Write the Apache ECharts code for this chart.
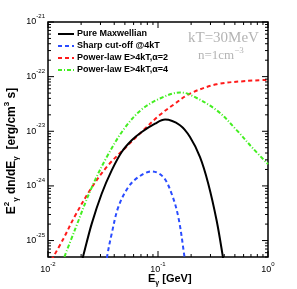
<!DOCTYPE html>
<html><head><meta charset="utf-8">
<script src="https://cdn.jsdelivr.net/npm/echarts@6/dist/echarts.min.js"></script>
<style>html,body{margin:0;padding:0;background:#fff}#c{width:297px;height:289px}</style>
</head><body><div id="c"></div>
<script>
// ---- data (E in GeV, E^2 dn/dE in erg/cm^3 s) ----
const seriesNames = ['Pure Maxwellian', 'Sharp cut-off @4kT', 'Power-law E>4kT,\u03b1=2', 'Power-law E>4kT,\u03b1=4'];

const maxwE = [0.01995, 0.02094, 0.02495, 0.03076, 0.03793, 0.04677, 0.05768, 0.07112, 0.09397, 0.1159, 0.1585, 0.1954, 0.241, 0.2864, 0.3412, 0.3873, 0.398];
const maxwY = [3.7e-26, 5.31e-26, 2.02e-25, 7.19e-25, 1.92e-24, 4.17e-24, 6.84e-24, 9.7e-24, 1.38e-23, 1.64e-23, 1.29e-23, 7.85e-24, 3.37e-24, 1.10e-24, 2.33e-25, 5.31e-26, 3.55e-26];

const cutE = [0.03388, 0.03459, 0.03793, 0.04355, 0.0537, 0.06622, 0.0877, 0.1117, 0.133, 0.1531, 0.1734, 0.177];
const cutY = [3.55e-26, 5.31e-26, 1.33e-25, 4.08e-25, 9.51e-25, 1.45e-24, 1.85e-24, 1.45e-24, 7.19e-25, 2.68e-25, 5.31e-26, 3.55e-26];

const pl2E = [0.01, 0.01377, 0.01758, 0.02495, 0.03532, 0.05012, 0.07112, 0.1042, 0.1413, 0.1954, 0.3412, 0.631, 1.0];
const pl2Y = [3.39e-26, 1.07e-25, 2.82e-25, 9.33e-25, 2.40e-24, 4.90e-24, 9.77e-24, 2.00e-23, 3.16e-23, 4.90e-23, 7.24e-23, 8.32e-23, 8.71e-23];

const pl4E = [0.01318, 0.01758, 0.02495, 0.03532, 0.05012, 0.07112, 0.1042, 0.1585, 0.1954, 0.3412, 0.5188, 0.7345, 1.0];
const pl4Y = [3.55e-26, 1.58e-25, 9.33e-25, 3.80e-24, 1.17e-23, 2.51e-23, 3.98e-23, 5.13e-23, 4.68e-23, 2.43e-23, 1.05e-23, 4.79e-24, 2.51e-24];

// axis ranges and tick values
const xRange = [0.01, 1];
const yRange = [5e-26, 1e-21];
const xDecades = [-2, -1, 0];
const yDecades = [-26, -25, -24, -23, -22, -21];
const minorMult = [2, 3, 4, 5, 6, 7, 8, 9];

// ---- build ----
// y values are handed to the log axis in units of 1e-26 (avoids ECharts rounding of tiny numbers)
const Y_UNIT_EXP = -26;
const yu = v => v / Math.pow(10, Y_UNIT_EXP);
const yr = [yu(yRange[0]), yu(yRange[1])];

const GRID = { left: 48, right: 29, top: 22, bottom: 32 };
const W = 297, H = 289;

function inRange(v, r) { return v >= r[0] * 0.999 && v <= r[1] * 1.001; }
function majorsFor(decades, range, shift) {
  return decades.map(d => Math.pow(10, d - shift)).filter(v => inRange(v, range));
}
function minorsFor(decades, range, shift) {
  const out = [];
  decades.forEach(d => minorMult.forEach(m => { const v = m * Math.pow(10, d - shift); if (inRange(v, range)) out.push(v); }));
  return out;
}
const xMajor = majorsFor(xDecades, xRange, 0);
const xMinor = minorsFor(xDecades, xRange, 0);
const yMajor = majorsFor(yDecades, yr, Y_UNIT_EXP);
const yMinor = minorsFor(yDecades, yr, Y_UNIT_EXP);

function powLabel(shift) {
  return function (v) {
    if (!(v > 0)) return '';
    const l = Math.log10(v);
    const e = Math.round(l);
    if (Math.abs(l - e) > 1e-6) return '';
    return '{b|10}{sup|' + (e + shift) + '}';
  };
}
const labelRich = {
  b: { fontSize: 9, fontFamily: 'Liberation Sans', color: '#000', verticalAlign: 'middle' },
  sup: { fontSize: 6, fontFamily: 'Liberation Sans', color: '#000', verticalAlign: 'middle', padding: [0, 0, 11, 0] }
};

function makeAxis(isX) {
  const range = isX ? xRange : yr;
  const majors = isX ? xMajor : yMajor;
  return {
    type: 'log', logBase: 10, min: range[0], max: range[1],
    axisLine: { show: false }, splitLine: { show: false }, minorTick: { show: false }, axisTick: { show: false },
    axisLabel: { show: true, customValues: majors, formatter: powLabel(isX ? 0 : Y_UNIT_EXP),
      margin: isX ? 4 : 3, rich: labelRich, hideOverlap: false }
  };
}

const lineStyles = [
  { color: '#000000', width: 2, type: 'solid' },
  { color: '#2a4cff', width: 2, type: [4, 3] },
  { color: '#ff1a1a', width: 2, type: [4, 3] },
  { color: '#44ee22', width: 2, type: [4, 2, 1, 2] }
];
const dataSets = [[maxwE, maxwY], [cutE, cutY], [pl2E, pl2Y], [pl4E, pl4Y]]
  .map(p => p[0].map((e, i) => [e, yu(p[1][i])]));

const lineSeries = seriesNames.map((n, i) => ({
  name: n, type: 'line', data: dataSets[i],
  showSymbol: false, symbol: 'none', smooth: 0.35, clip: true, z: i === 0 ? 4 : 3,
  lineStyle: lineStyles[i], itemStyle: { color: lineStyles[i].color }
}));

// frame ticks on all four sides (pointing inward), drawn as short segments on the log axes;
// tick length is converted from pixels to a multiplicative factor along each log axis
const pxPerDecX = (W - GRID.left - GRID.right) / Math.log10(xRange[1] / xRange[0]);
const pxPerDecY = (H - GRID.top - GRID.bottom) / Math.log10(yr[1] / yr[0]);
const fx = len => Math.pow(10, len / pxPerDecX);
const fy = len => Math.pow(10, len / pxPerDecY);
const tickSeries = [];
function tickSeg(p1, p2) {
  tickSeries.push({ type: 'line', data: [p1, p2], symbol: 'none', showSymbol: false, silent: true, clip: false,
    z: 6, animation: false, lineStyle: { color: '#000', width: 1, type: 'solid' }, tooltip: { show: false } });
}
[[xMajor, 6], [xMinor, 3]].forEach(([vals, len]) => vals.forEach(v => {
  tickSeg([v, yr[0]], [v, yr[0] * fy(len)]);
  tickSeg([v, yr[1]], [v, yr[1] / fy(len)]);
}));
[[yMajor, 6], [yMinor, 3]].forEach(([vals, len]) => vals.forEach(v => {
  tickSeg([xRange[0], v], [xRange[0] * fx(len), v]);
  tickSeg([xRange[1], v], [xRange[1] / fx(len), v]);
}));

const bold = 'Liberation Sans';
const textGraphics = [
  { type: 'text', x: 12, y: 151, rotation: Math.PI / 2, z: 10,
    style: { text: '{b|E}{sup|2}{sub|\u03b3}{b| dn/dE}{sub|\u03b3}{b|  [erg/cm}{sup|3}{b| s]}', align: 'center', verticalAlign: 'middle',
      rich: {
        b: { fontSize: 12, fontWeight: 'bold', fontFamily: bold, fill: '#000', verticalAlign: 'middle' },
        sup: { fontSize: 8, fontWeight: 'bold', fontFamily: bold, fill: '#000', verticalAlign: 'middle', padding: [0, 0, 10, 0] },
        sub: { fontSize: 8, fontWeight: 'bold', fontFamily: bold, fill: '#000', verticalAlign: 'middle', padding: [8, 0, 0, 0] }
      } } },
  { type: 'text', x: 148, y: 279, z: 10,
    style: { text: '{b|E}{sub|\u03b3}{b| [GeV]}', align: 'left', verticalAlign: 'middle',
      rich: {
        b: { fontSize: 11, fontWeight: 'bold', fontFamily: bold, fill: '#000', verticalAlign: 'middle' },
        sub: { fontSize: 7, fontWeight: 'bold', fontFamily: bold, fill: '#000', verticalAlign: 'middle', padding: [8, 0, 0, 0] }
      } } },
  { type: 'text', x: 188, y: 38, z: 10,
    style: { text: 'kT=30MeV', fontSize: 15, fontFamily: 'Liberation Serif', fill: '#b4b4b4', align: 'left', verticalAlign: 'middle' } },
  { type: 'text', x: 198, y: 56, z: 10,
    style: { text: '{b|n=1cm}{sup|\u22123}', align: 'left', verticalAlign: 'middle',
      rich: {
        b: { fontSize: 13, fontFamily: 'Liberation Serif', fill: '#b4b4b4', verticalAlign: 'middle' },
        sup: { fontSize: 9, fontFamily: 'Liberation Serif', fill: '#b4b4b4', verticalAlign: 'middle', padding: [0, 0, 10, 0] }
      } } }
];

const chart = echarts.init(document.getElementById('c'), null, { renderer: 'canvas' });
chart.setOption({
  animation: false,
  backgroundColor: '#fff',
  grid: Object.assign({ show: true, borderColor: '#000', borderWidth: 1.5, containLabel: false, outerBoundsMode: 'none' }, GRID),
  xAxis: makeAxis(true),
  yAxis: makeAxis(false),
  legend: {
    show: true, orient: 'vertical', left: 52, top: 24, itemWidth: 16, itemHeight: 8, itemGap: 2,
    data: seriesNames, selectedMode: false, itemStyle: { opacity: 0 },
    textStyle: { fontSize: 9, lineHeight: 10, fontWeight: 'bold', fontFamily: bold, color: '#000', padding: [0, 0, 0, -2] }
  },
  series: lineSeries.concat(tickSeries),
  graphic: textGraphics
});
</script>
</body></html>
